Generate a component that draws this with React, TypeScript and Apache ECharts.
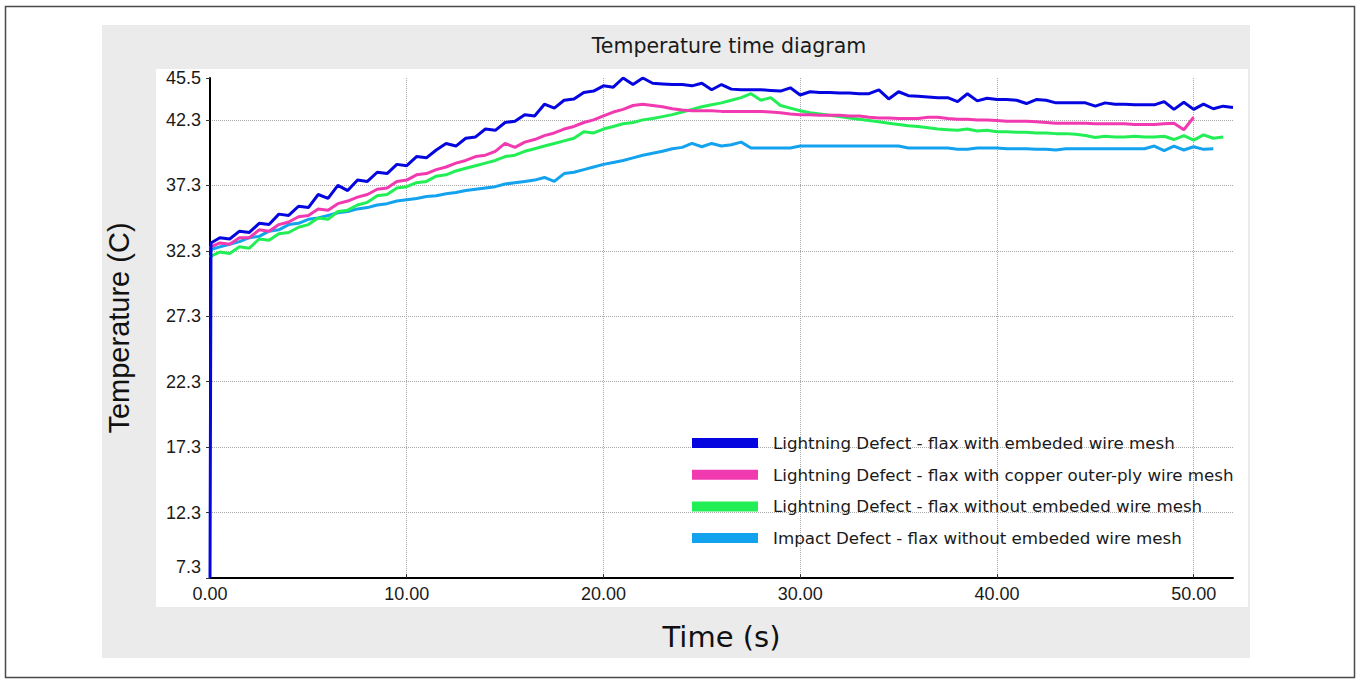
import React, { useEffect, useRef } from 'react';
import * as echarts from 'echarts';

// Time samples (s)
const times = [
  0, 0.05,
  0.5, 1, 1.5, 2, 2.5, 3, 3.5, 4, 4.5, 5,
  5.5, 6, 6.5, 7, 7.5, 8, 8.5, 9, 9.5, 10,
  10.5, 11, 11.5, 12, 12.5, 13, 13.5, 14, 14.5, 15,
  15.5, 16, 16.5, 17, 17.5, 18, 18.5, 19, 19.5, 20,
  20.5, 21, 21.5, 22, 22.5, 23, 23.5, 24, 24.5, 25,
  25.5, 26, 26.5, 27, 27.5, 28, 28.5, 29, 29.5, 30,
  30.5, 31, 31.5, 32, 32.5, 33, 33.5, 34, 34.5, 35,
  35.5, 36, 36.5, 37, 37.5, 38, 38.5, 39, 39.5, 40,
  40.5, 41, 41.5, 42, 42.5, 43, 43.5, 44, 44.5, 45,
  45.5, 46, 46.5, 47, 47.5, 48, 48.5, 49, 49.5, 50,
  50.5, 51, 51.5, 52,
];

// Lightning Defect - flax with embeded wire mesh
const blueValues = [
  7.3, 32.9,
  33.3, 33.2, 33.8, 33.7, 34.4, 34.3, 35.1, 35.0, 35.7, 35.6,
  36.6, 36.3, 37.3, 36.9, 37.7, 37.6, 38.3, 38.2, 38.9, 38.8,
  39.5, 39.4, 40.0, 40.5, 40.3, 40.9, 41.0, 41.6, 41.5, 42.1,
  42.2, 42.7, 42.6, 43.5, 43.2, 43.8, 43.9, 44.4, 44.5, 44.9,
  44.8, 45.5, 45.0, 45.5, 45.1, 45.05, 45.0, 45.0, 44.9, 45.1,
  44.6, 45.0, 44.65, 44.6, 44.6, 44.6, 44.55, 44.5, 44.75, 44.2,
  44.45, 44.4, 44.4, 44.35, 44.35, 44.3, 44.3, 44.6, 43.9, 44.45,
  44.15, 44.1, 44.05, 44.0, 44.0, 43.7, 44.3, 43.75, 43.95, 43.85,
  43.85, 43.8, 43.55, 43.85, 43.8, 43.6, 43.6, 43.6, 43.6, 43.35,
  43.6, 43.5, 43.5, 43.45, 43.45, 43.45, 43.7, 43.1, 43.65, 43.1,
  43.5, 43.15, 43.35, 43.25,
];

// Lightning Defect - flax with copper outer-ply wire mesh
const pinkValues = [
  32.5, 32.6,
  32.9, 32.8, 33.3, 33.3, 33.9, 33.8, 34.3, 34.5, 34.9, 35.0,
  35.5, 35.4, 35.9, 36.1, 36.4, 36.6, 37.0, 37.1, 37.6, 37.7,
  38.1, 38.2, 38.5, 38.7, 39.0, 39.2, 39.5, 39.6, 39.9, 40.5,
  40.2, 40.6, 40.8, 41.1, 41.3, 41.6, 41.8, 42.1, 42.3, 42.6,
  42.9, 43.1, 43.4, 43.5, 43.4, 43.3, 43.15, 43.05, 43.0, 43.0,
  43.0, 42.95, 42.95, 42.95, 42.95, 42.95, 42.9, 42.85, 42.75, 42.7,
  42.7, 42.65, 42.65, 42.65, 42.6, 42.6, 42.5, 42.45, 42.45, 42.4,
  42.4, 42.4, 42.5, 42.5, 42.4, 42.35, 42.35, 42.3, 42.3, 42.25,
  42.2, 42.2, 42.2, 42.15, 42.1, 42.05, 42.05, 42.05, 42.05, 42.0,
  42.0, 42.0, 42.0, 41.95, 41.95, 41.95, 42.0, 42.05, 41.55, 42.5,
];

// Lightning Defect - flax without embeded wire mesh
const greenValues = [
  31.8, 31.9,
  32.2, 32.1, 32.6, 32.5, 33.2, 33.1, 33.6, 33.7, 34.1, 34.3,
  34.8, 34.7, 35.3, 35.4, 35.8, 36.0, 36.5, 36.6, 37.1, 37.2,
  37.5, 37.6, 38.0, 38.1, 38.4, 38.6, 38.8, 39.0, 39.2, 39.5,
  39.6, 39.9, 40.1, 40.3, 40.5, 40.7, 40.9, 41.4, 41.3, 41.6,
  41.8, 42.0, 42.1, 42.3, 42.4, 42.55, 42.7, 42.9, 43.1, 43.3,
  43.45, 43.6, 43.8, 44.0, 44.3, 43.8, 44.0, 43.4, 43.2, 43.0,
  42.85, 42.75, 42.65, 42.55, 42.45, 42.35, 42.25, 42.15, 42.05, 41.95,
  41.85, 41.8, 41.7, 41.6, 41.55, 41.5, 41.6, 41.45, 41.5, 41.4,
  41.4, 41.35, 41.35, 41.3, 41.3, 41.25, 41.25, 41.2, 41.1, 40.95,
  41.05, 41.0, 41.0, 41.05, 41.0, 41.0, 41.05, 40.8, 41.1, 40.75,
  41.15, 40.9, 41.0,
];

// Impact Defect - flax without embeded wire mesh
const lightBlueValues = [
  32.3, 32.4,
  32.6, 32.8, 33.0, 33.3, 33.4, 33.8, 33.9, 34.3, 34.4, 34.7,
  34.8, 35.0, 35.2, 35.3, 35.5, 35.6, 35.8, 35.9, 36.1, 36.2,
  36.3, 36.45, 36.5, 36.65, 36.75, 36.9, 37.0, 37.1, 37.2, 37.4,
  37.5, 37.6, 37.7, 37.9, 37.6, 38.2, 38.3, 38.5, 38.7, 38.9,
  39.05, 39.2, 39.4, 39.6, 39.75, 39.9, 40.1, 40.2, 40.5, 40.25,
  40.5, 40.3, 40.4, 40.6, 40.15, 40.15, 40.15, 40.15, 40.15, 40.3,
  40.3, 40.3, 40.3, 40.3, 40.3, 40.3, 40.3, 40.3, 40.3, 40.3,
  40.15, 40.15, 40.15, 40.15, 40.15, 40.05, 40.05, 40.15, 40.15, 40.15,
  40.1, 40.1, 40.1, 40.05, 40.05, 40.0, 40.1, 40.1, 40.1, 40.1,
  40.1, 40.1, 40.1, 40.1, 40.1, 40.3, 39.95, 40.3, 40.0, 40.25,
  40.05, 40.1,
];

const seriesNames = [
  'Lightning Defect - flax with embeded wire mesh',
  'Lightning Defect - flax with copper outer-ply wire mesh',
  'Lightning Defect - flax without embeded wire mesh',
  'Impact Defect - flax without embeded wire mesh',
];
const seriesColors = ['#0505e0', '#f23ab0', '#22ee55', '#12a2ee'];

// Y axis tick labels run 7.3, 12.3, ... 42.3 with the top at 45.5
const Y_BASE = 7.3;
const Y_TOP = 45.5;
const Y_STEP = 5;
const X_MAX = 52;
const X_STEP = 10;

export default function App() {
  const ref = useRef<HTMLDivElement>(null);

  useEffect(() => {
    if (!ref.current) return;
    const chart = echarts.init(ref.current, null, { renderer: 'svg' });
    const toData = (vals: number[]) =>
      vals.map((v, i) => [times[i], Math.round((v - Y_BASE) * 1000) / 1000]);
    const allValues = [blueValues, pinkValues, greenValues, lightBlueValues];

    const drawOrder = [3, 2, 1, 0];
    const series = drawOrder.map((k) => ({
      name: seriesNames[k],
      type: 'line',
      data: toData(allValues[k]),
      showSymbol: false,
      symbol: 'none',
      clip: true,
      lineStyle: { color: seriesColors[k], width: 3 },
      itemStyle: { color: seriesColors[k] },
      z: 3 + (3 - k),
    }));

    chart.setOption({
      animation: false,
      backgroundColor: '#ffffff',
      graphic: [
        {
          type: 'rect',
          z: -20,
          silent: true,
          shape: { x: 5.5, y: 6.5, width: 1349, height: 671 },
          style: { fill: '#ffffff', stroke: '#4a4a4a', lineWidth: 1.5 },
        },
        {
          type: 'rect',
          z: -19,
          silent: true,
          shape: { x: 102, y: 25, width: 1148, height: 633 },
          style: { fill: '#ebebeb' },
        },
        {
          type: 'rect',
          z: -18,
          silent: true,
          shape: { x: 156, y: 69, width: 1092, height: 538 },
          style: { fill: '#ffffff' },
        },
        {
          type: 'text',
          z: -17,
          silent: true,
          x: 729,
          y: 46,
          style: {
            text: 'Temperature time diagram',
            fill: '#1a1a1a',
            font: '20.5px "DejaVu Sans"',
            textAlign: 'center',
            textVerticalAlign: 'middle',
          },
        },
      ],
      grid: { left: 210, top: 78, right: 126, bottom: 103, containLabel: false },
      legend: {
        orient: 'vertical',
        left: 692,
        top: 433,
        padding: 0,
        itemWidth: 66,
        itemHeight: 10,
        itemGap: 11.7,
        icon: 'rect',
        data: seriesNames,
        textStyle: {
          fontFamily: 'DejaVu Sans',
          fontSize: 16.7,
          lineHeight: 20,
          color: '#1a1a1a',
          padding: [0, 0, 0, 10],
        },
      },
      xAxis: {
        type: 'value',
        min: 0,
        max: X_MAX,
        interval: X_STEP,
        name: 'Time (s)',
        nameLocation: 'middle',
        nameGap: 44,
        nameTextStyle: { fontFamily: 'DejaVu Sans', fontSize: 29, color: '#111' },
        axisLine: { show: true, onZero: false, lineStyle: { color: '#000', width: 2 } },
        axisTick: { show: true, inside: true, length: 4, lineStyle: { color: '#333' } },
        axisLabel: {
          showMaxLabel: false,
          margin: 7,
          fontFamily: 'Liberation Sans',
          fontSize: 18,
          color: '#1a1a1a',
          formatter: (v: number) => v.toFixed(2),
        },
        splitLine: {
          show: true,
          showMinLine: false,
          showMaxLine: false,
          lineStyle: { type: 'dotted', color: '#a8a8a8', width: 1 },
        },
      },
      yAxis: {
        type: 'value',
        min: 0,
        max: Y_TOP - Y_BASE,
        interval: Y_STEP,
        name: 'Temperature (C)',
        nameLocation: 'middle',
        nameRotate: 90,
        nameGap: 77,
        nameTextStyle: { fontFamily: 'Liberation Sans', fontSize: 29, color: '#111' },
        axisLine: { show: true, onZero: false, lineStyle: { color: '#000', width: 2 } },
        axisTick: { show: true, inside: false, length: 4, lineStyle: { color: '#333' } },
        axisLabel: {
          margin: 9,
          fontFamily: 'Liberation Sans',
          fontSize: 18,
          color: '#1a1a1a',
          formatter: (v: number) => {
            const label = (v + Y_BASE).toFixed(1);
            return v === 0 ? '{lo|' + label + '}' : label;
          },
          rich: {
            lo: {
              fontFamily: 'Liberation Sans',
              fontSize: 18,
              color: '#1a1a1a',
              padding: [0, 0, 22, 0],
            },
          },
        },
        splitLine: {
          show: true,
          showMinLine: false,
          showMaxLine: false,
          lineStyle: { type: 'dotted', color: '#a8a8a8', width: 1 },
        },
      },
      series,
    });

    return () => chart.dispose();
  }, []);

  return (
    <div
      ref={ref}
      style={{ position: 'fixed', left: 0, top: 0, width: 1359, height: 681 }}
    />
  );
}
